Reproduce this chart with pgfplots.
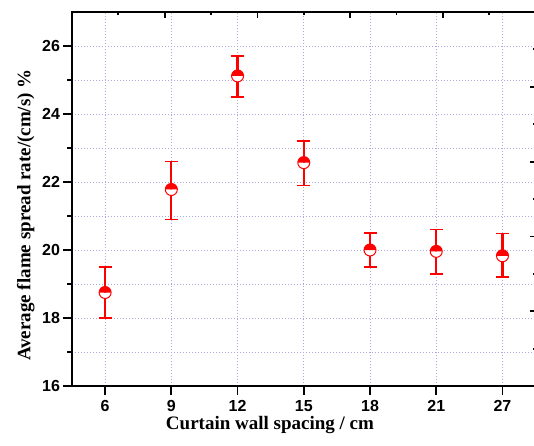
\documentclass[border=0pt]{standalone}
\usepackage{pgfplots}
\pgfplotsset{compat=1.18}
\usepackage{fontspec}
\setmainfont{Liberation Serif}
\newfontfamily\arialfont{Liberation Sans}
\usetikzlibrary{plotmarks}
\definecolor{gridc}{RGB}{170,170,225}

\begin{document}
\begin{tikzpicture}
\pgfplotsset{
  common/.style={
    at={(0,0)}, anchor=south west,
    scale only axis,
    width=463.6pt, height=374pt,
    xmin=-0.5, xmax=6.5,
    ymin=16, ymax=27,
    axis line style={line width=2.2pt},
    every tick/.style={black, line width=1.8pt},
  },
}
\pgfplotstableread{
x   y      ep    em
0   18.75  0.75  0.75
1   21.78  0.82  0.88
2   25.12  0.58  0.62
3   22.57  0.63  0.67
4   20.00  0.50  0.50
5   19.96  0.64  0.66
6   19.83  0.66  0.63
}\spread
% main axis: data, left and bottom ticks
\begin{axis}[
  common,
  xtick={0,1,2,3,4,5,6},
  xticklabels={6,9,12,15,18,21,27},
  ytick={16,18,20,22,24,26},
  minor y tick num=1,
  xtick pos=left, ytick pos=left,
  tick align=outside,
  major tick length=8.5pt,
  minor tick length=4.5pt,
  grid=both,
  major grid style={dash pattern=on 0.8pt off 2.2pt, line width=0.8pt, gridc},
  minor grid style={dash pattern=on 0.8pt off 2.2pt, line width=0.8pt, gridc},
  /pgf/number format/assume math mode=true,
  tick label style={font=\arialfont\bfseries\fontsize{16}{18}\selectfont},
  xticklabel style={yshift=-2pt},
  xlabel={Curtain wall spacing / cm},
  ylabel={Average flame spread rate/(cm/s) \%},
  label style={font=\bfseries\fontsize{19}{22}\selectfont},
  xlabel style={at={(axis description cs:0.427,0)}, anchor=north, yshift=-27pt},
  ylabel style={at={(axis description cs:0,0.457)}, anchor=south, yshift=34pt},
]
% error bars as their own plot, then the half-filled markers on top
\addplot[
  draw=none, mark=none,
  error bars/.cd, y dir=both, y explicit,
  error bar style={draw=red, solid, line width=2.2pt},
  error mark options={draw=red, line width=1.6pt, mark size=6.5pt, rotate=90},
] table[x=x, y=y, y error plus=ep, y error minus=em] {\spread};
\addplot[
  only marks,
  mark=halfcircle*, mark size=6pt,
  mark options={draw=red, fill=white, mark color=red, line width=1pt, rotate=180},
] table[x=x, y=y] {\spread};
\end{axis}
% second scale: top and right ticks only
\begin{axis}[
  common,
  xtick={-0.5,0.9,2.3,3.7,5.1,6.5},
  minor x tick num=1,
  ytick={16,18.2,20.4,22.6,24.8,27},
  minor y tick num=1,
  xtick pos=right, ytick pos=right,
  tick align=inside,
  major tick length=6pt,
  minor tick length=3pt,
  xticklabels={}, yticklabels={},
]
\end{axis}
\pgfresetboundingbox
\useasboundingbox (-72pt,-59pt) rectangle (462pt,386pt);
\end{tikzpicture}
\end{document}
